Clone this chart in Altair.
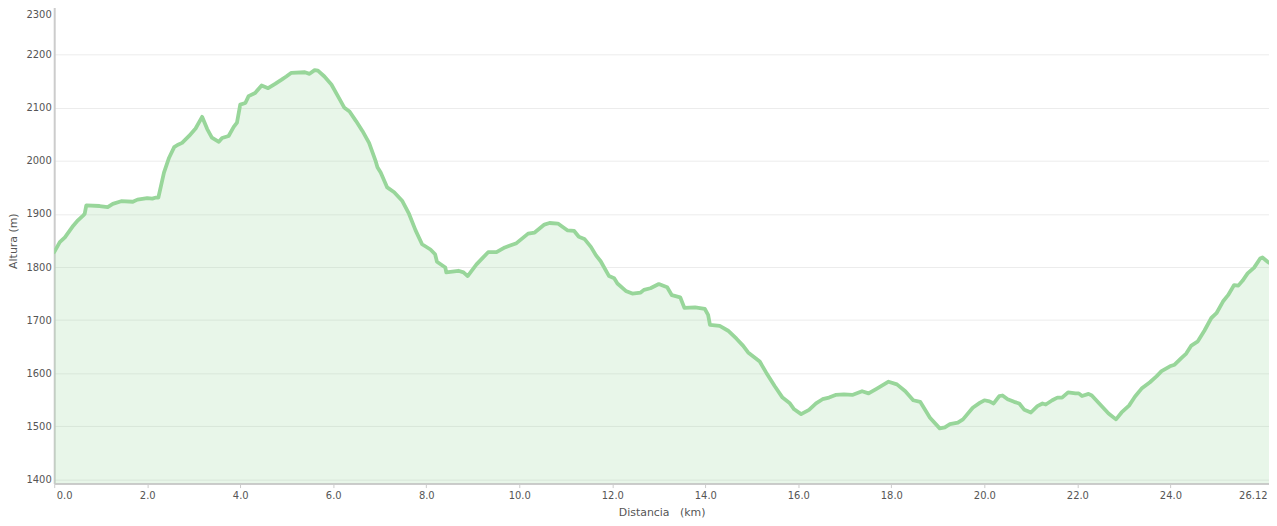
import altair as alt
import pandas as pd

# Distance along the route (km)
dist_km = [
    0.0, 0.12, 0.23, 0.41, 0.51, 0.62, 0.655, 0.69, 0.975, 1.15, 1.26, 1.44, 1.69, 1.79,
    2.0, 2.11, 2.19, 2.24, 2.36, 2.47, 2.58, 2.65, 2.75, 2.9, 3.04, 3.18, 3.29, 3.39,
    3.54, 3.61, 3.75, 3.86, 3.93, 4.0, 4.11, 4.18, 4.32, 4.46, 4.6, 4.75, 4.89, 4.99,
    5.1, 5.39, 5.49, 5.6, 5.67, 5.81, 5.96, 6.1, 6.24, 6.35, 6.49, 6.63, 6.77, 6.91,
    6.95, 7.02, 7.16, 7.31, 7.48, 7.63, 7.77, 7.91, 8.09, 8.19, 8.23, 8.41, 8.43, 8.69,
    8.8, 8.89, 9.08, 9.33, 9.51, 9.69, 9.94, 10.19, 10.33, 10.54, 10.65, 10.83, 11.04,
    11.18, 11.28, 11.4, 11.54, 11.65, 11.75, 11.93, 12.04, 12.11, 12.29, 12.43, 12.61,
    12.68, 12.82, 13.0, 13.18, 13.28, 13.46, 13.55, 13.78, 13.99, 14.06, 14.1, 14.31,
    14.49, 14.67, 14.81, 14.92, 15.17, 15.31, 15.49, 15.66, 15.81, 15.91, 16.06, 16.23,
    16.38, 16.52, 16.66, 16.8, 16.98, 17.16, 17.37, 17.51, 17.69, 17.94, 18.12, 18.3,
    18.47, 18.62, 18.83, 19.04, 19.15, 19.26, 19.43, 19.54, 19.75, 19.9, 20.0, 20.11,
    20.2, 20.32, 20.39, 20.5, 20.64, 20.75, 20.86, 21.0, 21.14, 21.25, 21.32, 21.46,
    21.57, 21.67, 21.8, 21.96, 22.03, 22.1, 22.24, 22.31, 22.49, 22.67, 22.83, 22.95,
    23.11, 23.24, 23.38, 23.56, 23.7, 23.81, 23.99, 24.09, 24.24, 24.34, 24.45, 24.59,
    24.73, 24.88, 24.99, 25.13, 25.24, 25.37, 25.46, 25.55, 25.66, 25.8, 25.93, 25.98,
    26.09, 26.12,
]

# Elevation (m)
altura_m = [
    1828, 1847, 1856, 1878, 1888, 1897, 1900, 1916, 1915, 1913, 1919, 1924, 1923, 1927,
    1930, 1929, 1931, 1931, 1978, 2006, 2026, 2030, 2034, 2047, 2061, 2083, 2060, 2044,
    2036, 2043, 2047, 2064, 2072, 2106, 2109, 2122, 2128, 2142, 2137, 2145, 2153, 2159,
    2166, 2167, 2164, 2171, 2170, 2159, 2144, 2122, 2100, 2093, 2075, 2056, 2034, 2000,
    1988, 1978, 1950, 1941, 1925, 1900, 1869, 1843, 1833, 1824, 1810, 1799, 1790, 1793,
    1790, 1783, 1805, 1828, 1828, 1837, 1845, 1863, 1865, 1880, 1883, 1882, 1869,
    1868, 1857, 1853, 1838, 1822, 1811, 1783, 1779, 1769, 1755, 1750, 1752,
    1757, 1760, 1768, 1762, 1747, 1743, 1723, 1724, 1721, 1710, 1691, 1689,
    1680, 1665, 1652, 1639, 1622, 1601, 1576, 1554, 1544, 1532, 1523, 1531,
    1543, 1551, 1554, 1559, 1560, 1559, 1566, 1562, 1571, 1584, 1579, 1566,
    1549, 1546, 1516, 1496, 1498, 1504, 1507, 1513, 1535, 1544, 1549, 1547,
    1543, 1557, 1558, 1551, 1546, 1543, 1531, 1526, 1538, 1543, 1541, 1549,
    1554, 1554, 1564, 1562, 1562, 1557, 1561, 1558, 1541, 1524, 1513, 1526,
    1539, 1556, 1571, 1583, 1594, 1604, 1613, 1616, 1629, 1637, 1652, 1660,
    1680, 1704, 1713, 1735, 1747, 1766, 1765, 1774, 1788, 1799, 1816, 1818,
    1810, 1808,
]

x_tick_values = [0, 2, 4, 6, 8, 10, 12, 14, 16, 18, 20, 22, 24, 26.12]
y_tick_values = [1400, 1500, 1600, 1700, 1800, 1900, 2000, 2100, 2200, 2300]
y_domain = [1392, 2300]
x_domain = [0, 26.12]

df = pd.DataFrame({"dist": dist_km, "alt": altura_m, "base": [y_domain[0]] * len(dist_km)})

line_color = "#98d69a"
text_color = "#555555"
font = "DejaVu Sans"

x_enc = alt.X(
    "dist:Q",
    scale=alt.Scale(domain=x_domain, nice=False, zero=False),
    axis=alt.Axis(
        values=x_tick_values,
        labelExpr="datum.value > 26 ? '26.12' : format(datum.value, '.1f')",
        title="Distancia\u00a0\u00a0\u00a0(km)",
        titleFont=font,
        titleFontSize=11,
        titleFontWeight="normal",
        titleColor=text_color,
        titleBaseline="alphabetic",
        titleY=32,
        labelFont=font,
        labelFontSize=10,
        labelColor=text_color,
        labelPadding=3,
        labelFlush=1,
        labelFlushOffset=-2,
        labelOverlap=False,
        domainColor="#cccccc",
        domainWidth=2,
        tickColor="#cccccc",
        tickSize=4,
        tickWidth=1,
        grid=False,
    ),
)

y_enc = alt.Y(
    "alt:Q",
    scale=alt.Scale(domain=y_domain, nice=False, zero=False),
    axis=alt.Axis(
        values=y_tick_values,
        format="d",
        title="Altura (m)",
        titleFont=font,
        titleFontSize=11,
        titleFontWeight="normal",
        titleColor=text_color,
        titleAngle=270,
        titleAlign="center",
        titleBaseline="alphabetic",
        titleX=-37.5,
        titleY=240.5,
        labelFont=font,
        labelFontSize=10,
        labelColor=text_color,
        labelPadding=3,
        labelFlush=1,
        labelFlushOffset=-8,
        labelOverlap=False,
        domainColor="#cccccc",
        domainWidth=2,
        ticks=False,
        tickSize=0,
        grid=True,
        gridColor="#ececec",
        gridWidth=1,
    ),
)

area = alt.Chart(df).mark_area(color=line_color, opacity=0.22, clip=True).encode(
    x=x_enc,
    y=y_enc,
    y2="base:Q",
)

line = alt.Chart(df).mark_line(
    color=line_color, strokeWidth=3.8, clip=True, strokeJoin="round", strokeCap="round"
).encode(
    x=alt.X("dist:Q"),
    y=alt.Y("alt:Q"),
)

chart = (
    alt.layer(area, line)
    .properties(
        width=1222.5,
        height=485,
        autosize=alt.AutoSizeParams(type="none"),
        padding={"left": 46.5, "top": -8, "right": 0, "bottom": 33},
        background="white",
    )
    .configure_view(stroke=None)
)

chart.save("out.html", embed_options={"renderer": "svg", "actions": False})
